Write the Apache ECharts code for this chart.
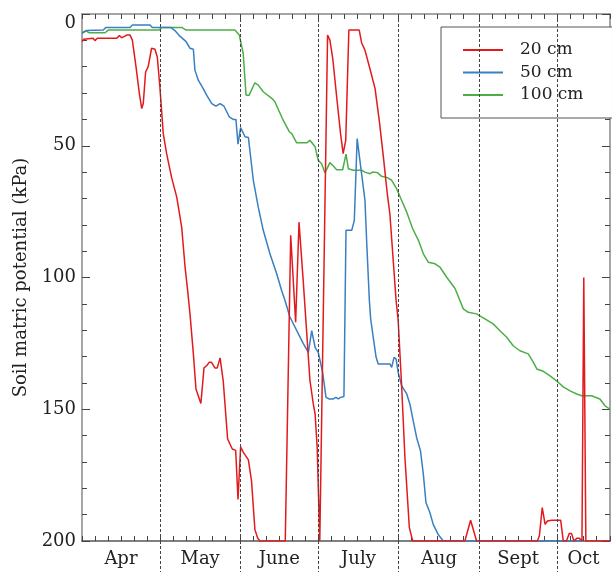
<!DOCTYPE html>
<html>
<head>
<meta charset="utf-8">
<script src="https://cdn.jsdelivr.net/npm/echarts@6/dist/echarts.min.js"></script>
<style>
  html,body{margin:0;padding:0;background:#fff;}
  #main{width:612px;height:572px;}
</style>
</head>
<body>
<div id="main"></div>
<script>
// x = days since 1 April
let monthNames=["Apr","May","June","July","Aug","Sept","Oct"];
let monthStart=[0,30,61,91,122,153,183];
let xEnd=203.4;

// 20 cm
let red20Days=[0,0.6,1.2,4.3,5,5.9,13.4,14.4,15.3,16.2,17.2,18.5,19.4,20.8,22.1,23,23.6,24.5,25.5,26.8,28.1,29,30,31.3,32.6,34.5,36.5,38.4,39.7,40.7,41.6,42.9,43.9,45.8,47,48,49,49.9,51.2,52.1,53.2,54.4,56.1,57.9,59.2,60.1,61.1,62.1,64.1,65.3,66.6,67.7,68.6,78.3,80.4,82.3,83.6,85.2,87.8,89.1,89.8,90.6,91.6,94.6,95.5,96.6,98.1,99.6,100.6,101.6,102.8,106.8,107.7,109,110.9,112.9,114.5,116.1,117.6,118.6,121,121.8,123.1,124.4,126.1,127.4,147.5,149.7,152,175.4,176.2,177.3,178.4,179.3,180.9,184.4,185.4,186.6,187.7,188.6,189.5,190.6,191.6,192.6,193.3,194.1,203.4];
let red20Vals=[10.5,9.6,9.2,9.2,10.1,9.2,9.2,8.2,9,8.6,8,8,9.9,20,30.2,35.9,34,22,20,13,13.4,16.3,27.6,45.4,53,62,69.5,80.9,96,105,113.8,129,142.3,147.8,134.3,133.5,132.2,132.2,134.3,134.3,130.5,139.2,161.3,165.1,165.6,184.2,164.3,166.3,169.2,177.2,195.6,199,200,200,84,117,79,101,139,148,151.8,164.5,200,8,9.9,16.9,31.4,45.4,53,48,6.1,6.1,10.9,13.7,20.7,28.3,40.3,54.2,68.2,75.8,108.7,116.3,140.4,168.3,194.9,200,200,192.1,200,200,198,187.3,193.7,192.4,192.1,192.1,200,200,197.2,197.2,200,199,199,200,100,200,200];

// 50 cm
let blue50Days=[0,1.8,8.2,9.2,18.5,19.4,26.2,27.1,34.2,35.8,37.7,40.1,41.6,42.9,43.5,44.8,46.7,48,50,51.6,53.2,54.7,56.7,58.3,59.3,60.1,61.1,62.8,64.1,66,67.9,69.8,72.4,75,76.9,78.2,80.1,85.2,87.2,88.5,89.8,91,92.7,94,95.3,96.8,97.8,98.7,99.6,100.9,101.3,101.7,103.9,104.9,106,107.7,109,109.7,110.7,111.2,112.2,113.3,114.1,118.6,119.3,120.2,121,121.8,123.1,125.1,126.3,127.6,128.9,130.4,131.5,132.5,134,135.3,137.2,139.2,192.5];
let blue50Vals=[7.3,6.3,6.1,5.1,5.1,4.2,4.2,5.1,5.1,6.3,8.4,10.5,13,13.4,21.3,25.1,28.3,30.8,34,35,34,35,39,40,40,49.4,43.1,46.6,46.9,63.1,73.3,82,91,98.6,104.9,108.7,115,125,128.4,120.2,126.5,128.4,136,145.5,146.1,146.1,145.5,146.1,145.5,145.2,145.2,82.1,82.1,78.3,47.3,60.6,70.7,87.2,108.7,115.7,122.7,130.3,132.8,132.8,134.1,130.3,131,136,141,144.2,148,154.4,160.7,165.8,174.7,185.4,189.2,193.7,197.5,200,200];

// 100 cm
let green100Days=[0,1.5,2.6,8.9,10.1,29.8,30.7,38.4,40.1,58.9,60.6,62.1,63.2,64.4,66.6,67.9,69.8,73.1,74.3,77.5,79.9,80.8,82.7,86.6,87.8,88.5,89.8,91,92.3,93.6,95.5,96.8,98.1,100.4,101.7,102.6,104.5,107.7,109,110.9,112,113.8,115.4,117.6,119.3,121.2,123.1,125.1,127.4,129.6,131.5,133.4,136,137.9,140.5,143.7,146.9,148.8,152,155.2,158.4,161,163.6,166.1,168.7,171.9,173.9,175.2,177.7,180.3,182.8,185.4,188,190.6,192.5,196.3,199.5,201.5,203.4];
let green100Vals=[7.1,6.3,7.1,7.1,6.1,6.1,5.1,5.1,6.1,6.1,8,15,30.8,30.8,26.1,27,29.5,32,33.3,40.3,44.7,45.4,48.9,48.9,47.9,47.9,50.4,55.5,56.8,60.3,56.4,57.7,59.1,59.1,53.2,58.7,59.3,59.3,60,60.6,60,60.2,61.6,62.1,63.1,66.3,70.7,75.2,81.5,85.9,91,94.2,94.8,96.1,99.9,104.2,111.9,113.2,113.8,115.7,117.6,120.2,122.7,125.9,127.8,129,132.2,134.7,135.6,137.3,139.2,141.5,143,144.2,144.9,144.9,146.1,148.7,150];

function zip(a,b){ return a.map(function(d,i){ return [d,b[i]]; }); }

// 月份中点 / 每5天小刻度
let monthEnd=monthStart.slice(1).concat([xEnd]);
let monthMid=monthStart.map(function(s,i){ return (s+monthEnd[i])/2; });
let minorDays=[];
monthStart.forEach(function(s,i){
  for(let d=s; d<monthEnd[i]-1; d+=5){ minorDays.push(d); }
});
minorDays.push(xEnd);
let monthBounds=monthStart.slice(1);

let font='"DejaVu Serif", "Liberation Serif", serif';
let mychart=echarts.init(document.getElementById('main'));

let option={
  animation:false,
  backgroundColor:'#fff',
  textStyle:{fontFamily:font},
  grid:{left:82,right:2,top:14,bottom:31,outerBoundsMode:'none'},
  legend:{
    data:['20 cm','50 cm','100 cm'],
    orient:'vertical',
    left:441,
    top:27,
    padding:[12,29,12,22],
    icon:'rect',
    itemWidth:40,
    itemHeight:2,
    itemGap:0.5,
    borderColor:'#555',
    borderWidth:1,
    backgroundColor:'#fff',
    textStyle:{fontFamily:font,fontSize:17,color:'#222',lineHeight:22,padding:[0,0,0,12]}
  },
  xAxis:[{
    type:'value',min:0,max:xEnd,position:'bottom',
    axisLine:{onZero:false,lineStyle:{color:'#555',width:1.5}},
    axisTick:{inside:true,length:5,customValues:minorDays,lineStyle:{color:'#444'}},
    axisLabel:{
      customValues:monthMid,margin:9,fontSize:18,color:'#222',fontFamily:font,
      formatter:function(v){
        let k=0;
        monthMid.forEach(function(m,i){ if(Math.abs(m-v)<Math.abs(monthMid[k]-v)) k=i; });
        return monthNames[k];
      }
    },
    splitLine:{show:false}
  },{
    // 虚线延伸到坐标轴下方
    type:'value',min:0,max:xEnd,position:'bottom',
    axisLine:{show:false,onZero:false},
    axisTick:{inside:false,length:31,customValues:monthBounds,lineStyle:{color:'#444',type:[3,2],width:1}},
    axisLabel:{show:false},
    splitLine:{show:false}
  },{
    type:'value',min:0,max:xEnd,position:'top',
    axisLine:{onZero:false,lineStyle:{color:'#888',width:1.5}},
    axisTick:{inside:true,length:5,customValues:minorDays,lineStyle:{color:'#444'}},
    axisLabel:{show:false},
    splitLine:{show:false}
  }],
  yAxis:[{
    type:'value',inverse:true,min:0,max:200,interval:50,position:'left',
    name:'Soil matric potential (kPa)',
    nameLocation:'middle',
    nameGap:44,
    nameTextStyle:{fontSize:18,color:'#222',fontFamily:font},
    axisLine:{onZero:false,lineStyle:{color:'#888',width:1.5}},
    axisTick:{inside:true,length:8,lineStyle:{color:'#444'}},
    minorTick:{show:true,splitNumber:5,length:5,lineStyle:{color:'#444'}},
    axisLabel:{fontSize:18,color:'#222',margin:6,fontFamily:font,verticalAlignMinLabel:'top'},
    splitLine:{show:false}
  },{
    type:'value',inverse:true,min:0,max:200,interval:50,position:'right',
    axisLine:{onZero:false,lineStyle:{color:'#888',width:1.5}},
    axisTick:{inside:true,length:8,lineStyle:{color:'#444'}},
    minorTick:{show:true,splitNumber:5,length:5,lineStyle:{color:'#444'}},
    axisLabel:{show:false},
    splitLine:{show:false}
  }],
  series:[{
    name:'100 cm',type:'line',symbol:'none',
    data:zip(green100Days,green100Vals),
    lineStyle:{color:'#4dae48',width:1.5},
    itemStyle:{color:'#4dae48'},
    markLine:{
      silent:true,symbol:['none','none'],
      label:{show:false},
      lineStyle:{color:'#444',type:[3,2],width:1},
      data:monthBounds.map(function(d){ return {xAxis:d}; })
    }
  },{
    name:'50 cm',type:'line',symbol:'none',
    data:zip(blue50Days,blue50Vals),
    lineStyle:{color:'#3a7fc1',width:1.5},
    itemStyle:{color:'#3a7fc1'}
  },{
    name:'20 cm',type:'line',symbol:'none',
    data:zip(red20Days,red20Vals),
    lineStyle:{color:'#e31a1c',width:1.5},
    itemStyle:{color:'#e31a1c'}
  }]
};

mychart.setOption(option);
</script>
</body>
</html>
